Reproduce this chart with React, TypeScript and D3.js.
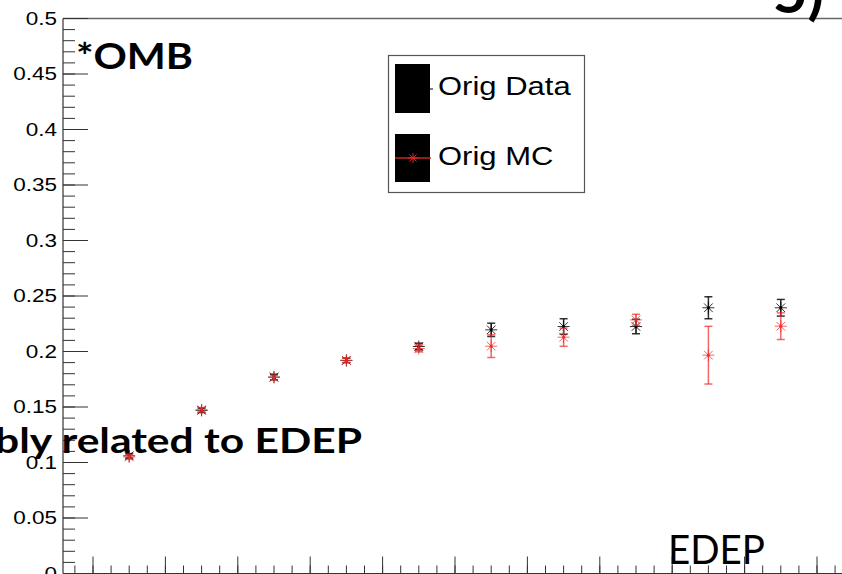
import React from "react";
import * as d3 from "d3";

const bins = [0.5, 1.5, 2.5, 3.5, 4.5, 5.5, 6.5, 7.5, 8.5, 9.5];
const dataVals = [0.106, 0.147, 0.177, 0.192, 0.2045, 0.2195, 0.2225, 0.2225, 0.2394, 0.2394];
const dataErr = [0.002, 0.002, 0.0025, 0.002, 0.003, 0.006, 0.007, 0.0065, 0.0099, 0.0075];
const mcVals = [0.105, 0.1475, 0.1765, 0.192, 0.2027, 0.2048, 0.2129, 0.2285, 0.1967, 0.2228];
const mcErr = [0.002, 0.002, 0.002, 0.002, 0.003, 0.0102, 0.0082, 0.005, 0.026, 0.012];
const yTickLabels = ["0", "0.05", "0.1", "0.15", "0.2", "0.25", "0.3", "0.35", "0.4", "0.45", "0.5"];
const legendLabels = ["Orig Data", "Orig MC"];

const W = 842;
const H = 574;

export default function App() {
  const x = d3.scaleLinear().domain([0, 1]).range([93, 165.4]);
  const y = d3.scaleLinear().domain([0, 0.5]).range([573.5, 18.5]);
  const x0 = 63;
  const xMin = x.invert(x0);
  const xMax = x.invert(W);

  const yMinor = d3.range(0, 0.5001, 0.01);
  const yMajor = yTickLabels.map((t) => +t);
  const xMinor = d3.range(Math.ceil(xMin * 4) / 4, xMax, 0.25);
  const xMajor = d3.range(Math.ceil(xMin), xMax, 1);

  const star = (cx: number, cy: number, r: number, color: string, key: string) => {
    const d = r * 0.72;
    return (
      <g key={key} stroke={color} strokeWidth={1}>
        <line x1={cx - r} y1={cy} x2={cx + r} y2={cy} />
        <line x1={cx} y1={cy - r} x2={cx} y2={cy + r} />
        <line x1={cx - d} y1={cy - d} x2={cx + d} y2={cy + d} />
        <line x1={cx - d} y1={cy + d} x2={cx + d} y2={cy - d} />
      </g>
    );
  };

  const series = (vals: number[], errs: number[], color: string, name: string) =>
    vals.map((v, i) => {
      const cx = x(bins[i]);
      const cy = y(v);
      const yt = y(v + errs[i]);
      const yb = y(v - errs[i]);
      return (
        <g key={name + i}>
          <g stroke={color} strokeWidth={1.5}>
            <line x1={cx} y1={yt} x2={cx} y2={yb} />
            <line x1={cx - 4} y1={yt} x2={cx + 4} y2={yt} />
            <line x1={cx - 4} y1={yb} x2={cx + 4} y2={yb} />
          </g>
          {star(cx, cy, 6, color, name + "s" + i)}
          <circle cx={cx} cy={cy} r={1.6} fill={color} />
        </g>
      );
    });

  const axisFont = "'Liberation Sans', Arial, Helvetica, sans-serif";
  const calibri = "Lato, 'Open Sans', sans-serif";

  return (
    <svg
      width={W}
      height={H}
      style={{ position: "absolute", left: 0, top: 0, background: "#fff" }}
    >
      <rect x={0} y={0} width={W} height={H} fill="#fff" />
      {/* frame */}
      <line x1={x0} y1={y(0.5)} x2={W} y2={y(0.5)} stroke="#666" strokeWidth={1.5} />
      <line x1={x0} y1={y(0.5)} x2={x0} y2={y(0)} stroke="#333" strokeWidth={1.2} />
      <line x1={x0} y1={y(0)} x2={W} y2={y(0)} stroke="#333" strokeWidth={1.2} />
      {/* y ticks */}
      {yMinor.map((v, i) => (
        <line key={"ym" + i} x1={x0} x2={x0 + 12} y1={y(v)} y2={y(v)} stroke="#333" strokeWidth={1} />
      ))}
      {yMajor.map((v, i) => (
        <line key={"yM" + i} x1={x0} x2={x0 + 25} y1={y(v)} y2={y(v)} stroke="#333" strokeWidth={1} />
      ))}
      {yTickLabels.map((t, i) => (
        <text
          key={"yl" + i}
          transform={`translate(57,${y(+t)}) scale(1.25,1)`}
          textAnchor="end"
          dy="0.36em"
          fontFamily={axisFont}
          fontSize={18}
          fill="#000"
        >
          {t}
        </text>
      ))}
      {/* x ticks */}
      {xMinor.map((v, i) => (
        <line key={"xm" + i} x1={x(v)} x2={x(v)} y1={y(0)} y2={y(0) - 8} stroke="#333" strokeWidth={1} />
      ))}
      {xMajor.map((v, i) => (
        <line key={"xM" + i} x1={x(v)} x2={x(v)} y1={y(0)} y2={y(0) - 17} stroke="#333" strokeWidth={1} />
      ))}
      {/* data */}
      {series(dataVals, dataErr, "rgba(0,0,0,0.8)", "d")}
      {series(mcVals, mcErr, "rgba(240,40,40,0.7)", "m")}
      {/* legend */}
      <rect x={388.5} y={55.5} width={196} height={137} fill="#fff" stroke="#555" strokeWidth={1.2} />
      <rect x={395} y={64} width={35} height={49} fill="#000" />
      <rect x={395} y={134} width={35} height={48} fill="#000" />
      <line x1={395} x2={433} y1={89} y2={89} stroke="#000" strokeWidth={1} />
      <line x1={395} x2={431} y1={158} y2={158} stroke="rgba(220,40,40,0.9)" strokeWidth={1.5} />
      {star(413, 158, 5, "rgba(240,40,40,0.9)", "legstar")}
      {legendLabels.map((t, i) => (
        <text
          key={"lg" + i}
          transform={`translate(438,${95 + i * 70}) scale(1.24,1)`}
          fontFamily={axisFont}
          fontSize={25}
          fill="#000"
        >
          {t}
        </text>
      ))}
      {/* overlay annotations */}
      <text x={76} y={69} fontFamily={calibri} fontWeight={700} fontSize={37} textLength={117} lengthAdjust="spacingAndGlyphs" fill="#000">
        *OMB
      </text>
      <text x={-5} y={453} fontFamily={calibri} fontWeight={700} fontSize={35} textLength={367} lengthAdjust="spacingAndGlyphs" fill="#000">
        bly related to EDEP
      </text>
      <text x={668} y={564} fontFamily={calibri} fontSize={40} textLength={97} lengthAdjust="spacingAndGlyphs" fill="#000">
        EDEP
      </text>
      <text x={824} y={13} textAnchor="end" fontFamily={calibri} fontWeight={700} fontSize={60} fill="#000">
        5)
      </text>
    </svg>
  );
}
